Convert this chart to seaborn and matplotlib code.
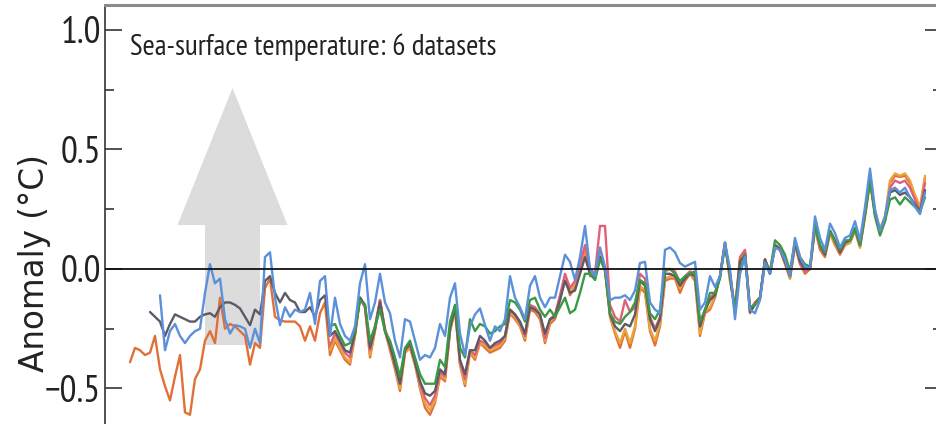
import numpy as np
import pandas as pd
import matplotlib
matplotlib.use("Agg")
import matplotlib.pyplot as plt
import matplotlib.patches as mpatches
from matplotlib.font_manager import FontProperties
import seaborn as sns

# ---------------- data (annual SST anomalies, degC) ----------------
orange_start = 1851
orange = [-0.39,-0.33,-0.34,-0.36,-0.35,-0.28,-0.42,-0.49,-0.55,-0.45,
          -0.36,-0.60,-0.61,-0.46,-0.42,-0.30,-0.26,-0.31,-0.12,-0.25,
          -0.23,-0.24,-0.26,-0.28,-0.40,-0.31,-0.33,-0.08,-0.04,-0.20,
          -0.215,-0.22,-0.22,-0.22,-0.24,-0.30,-0.24,-0.30,-0.185,-0.14,
          -0.36,-0.30,-0.34,-0.38,-0.40,-0.28,-0.12,-0.16,-0.37,-0.26,
          -0.13,-0.26,-0.34,-0.42,-0.51,-0.35,-0.33,-0.40,-0.50,-0.58,
          -0.61,-0.56,-0.45,-0.47,-0.26,-0.17,-0.40,-0.49,-0.35,-0.38,
          -0.31,-0.33,-0.35,-0.34,-0.33,-0.30,-0.185,-0.21,-0.24,-0.30,
          -0.17,-0.18,-0.21,-0.31,-0.23,-0.21,-0.13,-0.03,-0.11,-0.07,
          0.01,0.08,-0.03,-0.03,0.05,-0.01,-0.20,-0.27,-0.33,-0.26,
          -0.33,-0.25,-0.08,-0.10,-0.26,-0.32,-0.24,-0.05,-0.04,-0.04,
          -0.10,-0.05,-0.02,-0.05,-0.28,-0.185,-0.17,-0.12,-0.03,0.11,
          -0.05,-0.17,0.04,0.07,-0.185,-0.14,-0.12,0.04,-0.02,0.09,
          0.08,0.02,-0.04,0.10,0.02,-0.02,0.00,0.17,0.08,0.05,
          0.15,0.10,0.06,0.10,0.11,0.16,0.09,0.22,0.37,0.24,
          0.16,0.20,0.36,0.39,0.385,0.39,0.36,0.30,0.25,0.38]

blue_start = 1857
blue = [-0.11,-0.34,-0.26,-0.23,-0.28,-0.31,-0.28,-0.26,-0.25,-0.10,
        0.02,-0.06,-0.04,-0.21,-0.27,-0.235,-0.24,-0.25,-0.33,-0.25,
        -0.31,0.05,0.07,-0.12,-0.235,-0.16,-0.20,-0.17,-0.18,-0.17,
        -0.10,-0.23,-0.05,-0.03,-0.28,-0.12,-0.23,-0.28,-0.30,-0.24,
        -0.06,0.02,-0.21,-0.14,-0.02,-0.14,-0.185,-0.30,-0.37,-0.21,
        -0.22,-0.30,-0.38,-0.36,-0.37,-0.33,-0.23,-0.28,-0.12,-0.06,
        -0.27,-0.36,-0.24,-0.19,-0.165,-0.235,-0.30,-0.24,-0.26,-0.21,
        -0.03,-0.12,-0.16,-0.21,-0.07,-0.03,-0.12,-0.16,-0.12,-0.12,
        -0.03,0.06,0.03,-0.046,0.05,0.18,0.00,-0.03,0.09,0.01,
        -0.13,-0.12,-0.12,-0.11,-0.13,-0.09,0.025,0.03,-0.14,-0.17,
        -0.185,0.08,0.09,0.07,0.025,0.01,0.02,0.03,-0.17,-0.14,
        -0.03,-0.075,-0.03,0.11,0.00,-0.21,-0.02,0.05,-0.17,-0.185,
        -0.13,0.025,-0.02,0.09,0.08,0.04,-0.03,0.13,0.05,0.01,
        0.00,0.22,0.13,0.08,0.19,0.15,0.09,0.13,0.14,0.20,
        0.12,0.26,0.42,0.25,0.16,0.22,0.33,0.34,0.32,0.34,
        0.30,0.26,0.23,0.32]

gray_start = 1855
gray = [-0.18,-0.20,-0.22,-0.28,-0.23,-0.19,-0.20,-0.21,-0.22,-0.22,
        -0.20,-0.19,-0.185,-0.20,-0.16,-0.14,-0.14,-0.15,-0.165,-0.20,
        -0.235,-0.17,-0.19,-0.05,-0.03,-0.10,-0.14,-0.10,-0.13,-0.14,
        -0.18,-0.18,-0.16,-0.20,-0.13,-0.11,-0.28,-0.26,-0.30,-0.34,
        -0.35,-0.27,-0.12,-0.15,-0.33,-0.25,-0.14,-0.26,-0.32,-0.40,
        -0.48,-0.34,-0.31,-0.39,-0.47,-0.52,-0.53,-0.51,-0.42,-0.44,
        -0.25,-0.16,-0.38,-0.44,-0.34,-0.34,-0.28,-0.30,-0.33,-0.31,
        -0.30,-0.28,-0.17,-0.19,-0.22,-0.27,-0.16,-0.17,-0.19,-0.27,
        -0.21,-0.20,-0.13,-0.05,-0.10,-0.09,-0.02,0.05,-0.02,-0.04,
        0.05,0.00,-0.19,-0.24,-0.26,-0.23,-0.24,-0.19,-0.05,-0.07,
        -0.21,-0.26,-0.21,-0.02,-0.02,-0.03,-0.07,-0.04,-0.02,-0.03,
        -0.24,-0.17,-0.13,-0.11,-0.03,0.11,-0.03,-0.18,0.03,0.06,
        -0.18,-0.15,-0.12,0.04,-0.02,0.10,0.08,0.03,-0.03,0.11,
        0.03,0.00,0.00,0.19,0.10,0.06,0.16,0.12,0.07,0.11,
        0.12,0.17,0.10,0.23,0.38,0.23,0.15,0.21,0.32,0.33,
        0.31,0.32,0.30,0.27,0.24,0.33]

green_start = 1891
green = [-0.24,-0.23,-0.28,-0.32,-0.31,-0.26,-0.13,-0.15,-0.30,-0.24,
         -0.17,-0.26,-0.30,-0.37,-0.45,-0.33,-0.30,-0.37,-0.44,-0.48,
         -0.48,-0.48,-0.38,-0.41,-0.22,-0.15,-0.33,-0.37,-0.21,-0.26,
         -0.23,-0.24,-0.27,-0.26,-0.24,-0.23,-0.13,-0.14,-0.17,-0.22,
         -0.13,-0.12,-0.17,-0.20,-0.17,-0.20,-0.16,-0.12,-0.185,-0.17,
         -0.10,-0.02,-0.02,-0.046,0.04,0.00,-0.185,-0.22,-0.23,-0.20,
         -0.18,-0.14,-0.046,-0.06,-0.185,-0.21,-0.17,0.00,0.00,-0.02,
         -0.05,-0.03,-0.02,-0.01,-0.22,-0.17,-0.10,-0.10,-0.04,0.10,
         -0.02,-0.17,0.00,0.06,-0.16,-0.15,-0.12,0.03,-0.01,0.12,
         0.10,0.06,-0.01,0.12,0.05,0.02,0.01,0.18,0.10,0.07,
         0.16,0.12,0.08,0.12,0.12,0.17,0.10,0.23,0.37,0.22,
         0.14,0.20,0.29,0.30,0.27,0.30,0.28,0.26,0.24,0.30]

pink_start = 1891
pink = [-0.32,-0.27,-0.31,-0.35,-0.37,-0.26,-0.12,-0.16,-0.34,-0.24,
        -0.13,-0.25,-0.32,-0.40,-0.48,-0.34,-0.32,-0.39,-0.48,-0.54,
        -0.57,-0.53,-0.43,-0.45,-0.25,-0.16,-0.39,-0.46,-0.34,-0.36,
        -0.30,-0.31,-0.33,-0.32,-0.31,-0.28,-0.17,-0.19,-0.23,-0.28,
        -0.15,-0.16,-0.19,-0.29,-0.21,-0.19,-0.11,-0.02,-0.08,-0.05,
        0.02,0.10,0.00,-0.02,0.18,0.18,-0.15,-0.20,-0.22,-0.13,
        -0.18,-0.16,-0.02,-0.04,-0.20,-0.25,-0.20,-0.01,0.00,-0.01,
        -0.06,-0.03,-0.01,-0.02,-0.24,-0.18,-0.12,-0.10,-0.03,0.10,
        -0.02,-0.17,0.05,0.08,-0.17,-0.14,-0.12,0.04,-0.01,0.10,
        0.09,0.04,-0.03,0.11,0.03,-0.01,0.00,0.18,0.09,0.06,
        0.16,0.11,0.07,0.11,0.12,0.17,0.10,0.23,0.38,0.23,
        0.15,0.21,0.34,0.37,0.36,0.37,0.34,0.29,0.24,0.36]

gold_start = 1891
gold = [-0.34,-0.29,-0.33,-0.37,-0.39,-0.27,-0.12,-0.16,-0.36,-0.25,
        -0.13,-0.26,-0.33,-0.41,-0.50,-0.35,-0.33,-0.40,-0.49,-0.56,
        -0.59,-0.55,-0.44,-0.46,-0.26,-0.17,-0.40,-0.48,-0.35,-0.37,
        -0.31,-0.32,-0.34,-0.33,-0.32,-0.29,-0.18,-0.20,-0.24,-0.29,
        -0.16,-0.17,-0.20,-0.30,-0.22,-0.20,-0.12,-0.03,-0.10,-0.06,
        0.01,0.09,-0.02,-0.03,0.07,0.00,-0.19,-0.26,-0.31,-0.25,
        -0.31,-0.24,-0.07,-0.09,-0.25,-0.30,-0.23,-0.04,-0.03,-0.03,
        -0.08,-0.04,-0.02,-0.04,-0.27,-0.18,-0.16,-0.11,-0.03,0.11,
        -0.04,-0.17,0.04,0.07,-0.18,-0.14,-0.12,0.04,-0.02,0.09,
        0.08,0.03,-0.04,0.10,0.03,-0.01,0.00,0.17,0.09,0.06,
        0.15,0.10,0.07,0.10,0.11,0.16,0.09,0.22,0.36,0.24,
        0.17,0.22,0.37,0.40,0.39,0.40,0.37,0.31,0.26,0.39]

series = {
    "orange": (orange_start, orange),
    "gold": (gold_start, gold),
    "pink": (pink_start, pink),
    "gray": (gray_start, gray),
    "green": (green_start, green),
    "blue": (blue_start, blue),
}
palette = {"orange": "#e07038", "gold": "#eaa43a", "pink": "#e0607a",
           "gray": "#5e5966", "green": "#3a9a44", "blue": "#5b90da"}

title_text = "Sea-surface temperature: 6 datasets"
ylabel_text = "Anomaly (°C)"
yticks = [-0.5, 0.0, 0.5, 1.0]
ytick_labels = ["\u22120.5", "0.0", "0.5", "1.0"]
yminor = [-0.25, 0.25, 0.75]

rows = []
for name, (start, vals) in series.items():
    for i, v in enumerate(vals):
        rows.append({"year": start + i, "anomaly": v, "dataset": name})
df = pd.DataFrame(rows)

# ---------------- figure ----------------
sns.set_theme(style="white")
plt.rcParams["font.family"] = ["DejaVu Sans"]

narrow_families = ["PT Sans Narrow", "Roboto Condensed", "Fira Sans Condensed",
                   "IBM Plex Sans Condensed", "Open Sans"]
cond_tick = FontProperties(family=narrow_families, stretch="condensed", weight="normal", size=27)
cond_title = FontProperties(family=narrow_families, stretch="condensed", weight="normal", size=21.2)
label_font = FontProperties(family="DejaVu Sans", size=23.5)

W, H = 936, 424
fig = plt.figure(figsize=(W / 100, H / 100), dpi=100)
fig.patch.set_facecolor("white")

left_px, right_px, top_px, bot_px = 105, 942, 4.9, 436.3
ax = fig.add_axes([left_px / W, 1 - bot_px / H, (right_px - left_px) / W, (bot_px - top_px) / H])
ax.set_facecolor("white")
ax.set_xlim(1846.0, 2013.4)
ax.set_ylim(-0.70, 1.105)

arrow = mpatches.FancyArrow(1871.5, -0.318, 0, 1.075, width=11, head_width=22,
                            head_length=0.573, length_includes_head=True,
                            color="#dcdcdc", lw=0, zorder=0)
ax.add_patch(arrow)

sns.lineplot(data=df, x="year", y="anomaly", hue="dataset", palette=palette,
             hue_order=list(series.keys()), linewidth=1.7, legend=False, ax=ax,
             zorder=2)

ax.axhline(0.0, color="#111111", lw=1.3, zorder=3)

ax.set_yticks(yticks)
ax.set_yticklabels(ytick_labels, color="#222222")
for lab in ax.get_yticklabels():
    lab.set_fontproperties(cond_tick)
ax.set_yticks(yminor, minor=True)
ax.tick_params(axis="y", which="major", direction="in", length=12, width=1.2,
               color="#333333", left=True, right=True, pad=3)
ax.tick_params(axis="y", which="minor", direction="in", length=6.5, width=1.2,
               color="#333333", left=True, right=True)
ax.set_xticks([])

for s in ["left", "right"]:
    ax.spines[s].set_color("#333333")
    ax.spines[s].set_linewidth(1.2)
ax.spines["top"].set_color("#8a8a8a")
ax.spines["top"].set_linewidth(2.2)
ax.spines["bottom"].set_visible(False)

ax.set_xlabel("")
ax.set_ylabel("")
fig.text(35 / W, 1 - 263 / H, ylabel_text, rotation=90, ha="center", va="center",
         fontproperties=label_font, color="#222222")

ax.text(1851.0, 0.895, title_text, fontproperties=cond_title, color="#222222",
        ha="left", va="baseline", zorder=4)

fig.savefig("out.png", dpi=100)
